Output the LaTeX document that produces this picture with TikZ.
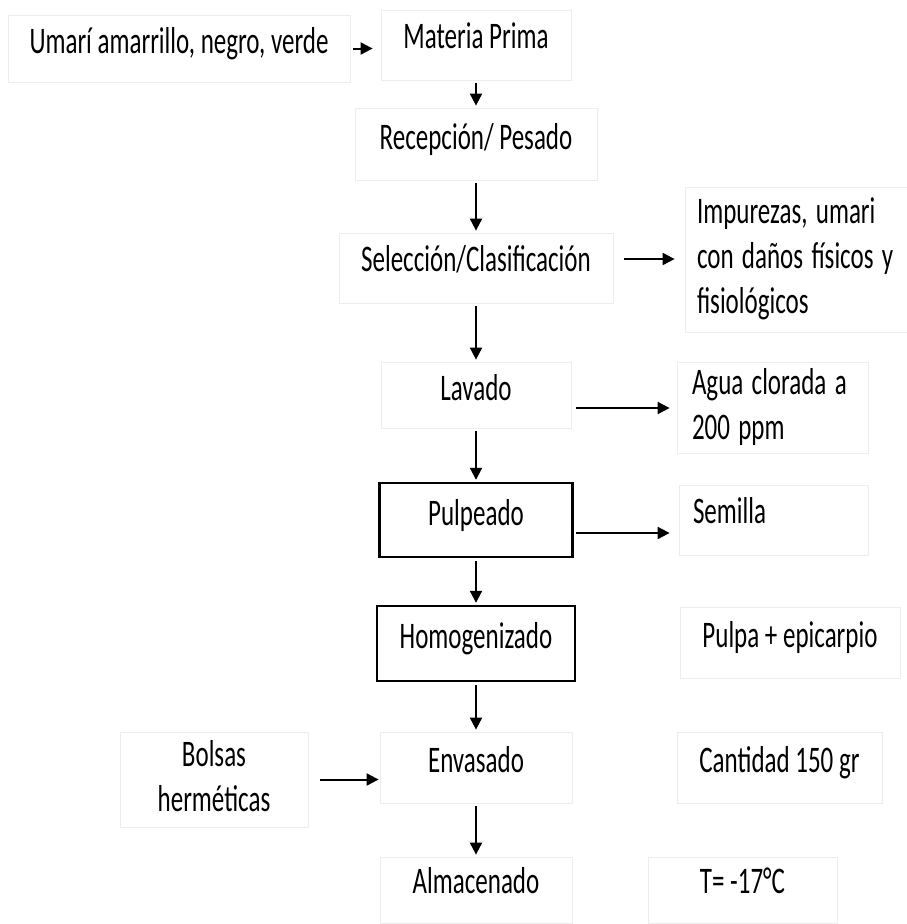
\documentclass[tikz,border=0pt]{standalone}
\usepackage{fontspec}
\setmainfont{Carlito}
\usetikzlibrary{arrows.meta,positioning,calc}
\definecolor{ink}{HTML}{000000}
\definecolor{faint}{HTML}{EDEDED}

\newcommand{\stretched}[1]{\scalebox{1}[1.5]{#1}}

\begin{document}
\begin{tikzpicture}[
  x=1pt, y=-1pt,
  font=\fontsize{25}{30}\selectfont,
  box/.style={draw=faint, line width=0.8pt, inner sep=0pt, align=center},
  stage/.style={box, text height=24pt, text depth=14pt},
  solid box/.style={stage, draw=ink, line width=2.4pt},
  side/.style={box, align=left},
  arr/.style={-{Triangle[length=12pt,width=12pt]}, draw=ink, line width=2pt,
              shorten <=3pt, shorten >=2pt}
]
\useasboundingbox (0,0) rectangle (907,924);

% main line
\node[stage, minimum width=342pt, minimum height=67pt] (umari) at (179,48.5)
  {\stretched{Umarí amarrillo, negro, verde}};
\node[stage, minimum width=190pt, minimum height=70pt, text depth=18pt] (mat) at (476,45)
  {\stretched{Materia Prima}};
\node[stage, minimum width=242pt, minimum height=72pt] (rec) at (476,144)
  {\stretched{Recepción/ Pesado}};
\node[stage, minimum width=274pt, minimum height=70pt, text depth=18pt] (sel) at (476,268)
  {\stretched{Selección/Clasificación}};
\node[stage, minimum width=190pt, minimum height=66pt] (lav) at (476,395)
  {\stretched{Lavado}};
\node[solid box, minimum width=193pt, minimum height=74pt] (pul) at (476,520)
  {\stretched{Pulpeado}};
\node[solid box, minimum width=198pt, minimum height=75pt] (hom) at (476,643.5)
  {\stretched{Homogenizado}};
\node[stage, minimum width=192pt, minimum height=71pt] (env) at (476,767.5)
  {\stretched{Envasado}};
\node[stage, minimum width=192pt, minimum height=66pt, text depth=18pt] (alm) at (476,890)
  {\stretched{Almacenado}};

% side boxes
\node[side, minimum width=224pt, minimum height=145pt, text width=200pt] (imp) at (797,259.5)
  {\stretched{\begin{tabular}{@{}l@{}}Impurezas, umari\\con daños físicos y\\fisiológicos\end{tabular}}};
\node[side, minimum width=191pt, minimum height=91pt, text width=161pt] (agua) at (772.5,407.5)
  {\stretched{\begin{tabular}{@{}l@{}}Agua clorada a\\200 ppm\end{tabular}}};
\node[side, minimum width=189pt, minimum height=70pt, text width=161pt,
      text height=24pt, text depth=18pt] (sem) at (773.5,520)
  {\stretched{Semilla}};
\node[stage, minimum width=220pt, minimum height=71pt] (pulpa) at (790,642.5)
  {\stretched{Pulpa + epicarpio}};
\node[box, minimum width=188pt, minimum height=95pt] (bol) at (214,779.5)
  {\stretched{\begin{tabular}{@{}c@{}}Bolsas\\herméticas\end{tabular}}};
\node[stage, minimum width=205pt, minimum height=71pt] (cant) at (779.5,767.5)
  {\stretched{Cantidad 150 gr}};
\node[stage, minimum width=189pt, minimum height=66pt, text depth=18pt] (temp) at (742.5,890)
  {\stretched{T= -17°C}};

% flow
\draw[arr, shorten >=8pt] (umari.east) -- (umari.east -| mat.west);
\foreach \a/\b in {mat/rec, rec/sel, sel/lav, lav/pul, pul/hom, hom/env, env/alm}
  \draw[arr] (\a) -- (\b);

\draw[arr, shorten <=11pt, shorten >=10pt] ([yshift=9pt]sel.east) -- ([yshift=9pt]sel.east -| imp.west);
\draw[arr, shorten <=5pt, shorten >=7pt] ([yshift=-13pt]lav.east) -- ([yshift=-13pt]lav.east -| agua.west);
\draw[arr, shorten <=2pt, shorten >=9pt] ([yshift=-13pt]pul.east) -- ([yshift=-13pt]pul.east -| sem.west);
\draw[arr, shorten <=12pt, shorten >=1pt] (bol.east) -- (bol.east -| env.west);

\end{tikzpicture}
\end{document}
